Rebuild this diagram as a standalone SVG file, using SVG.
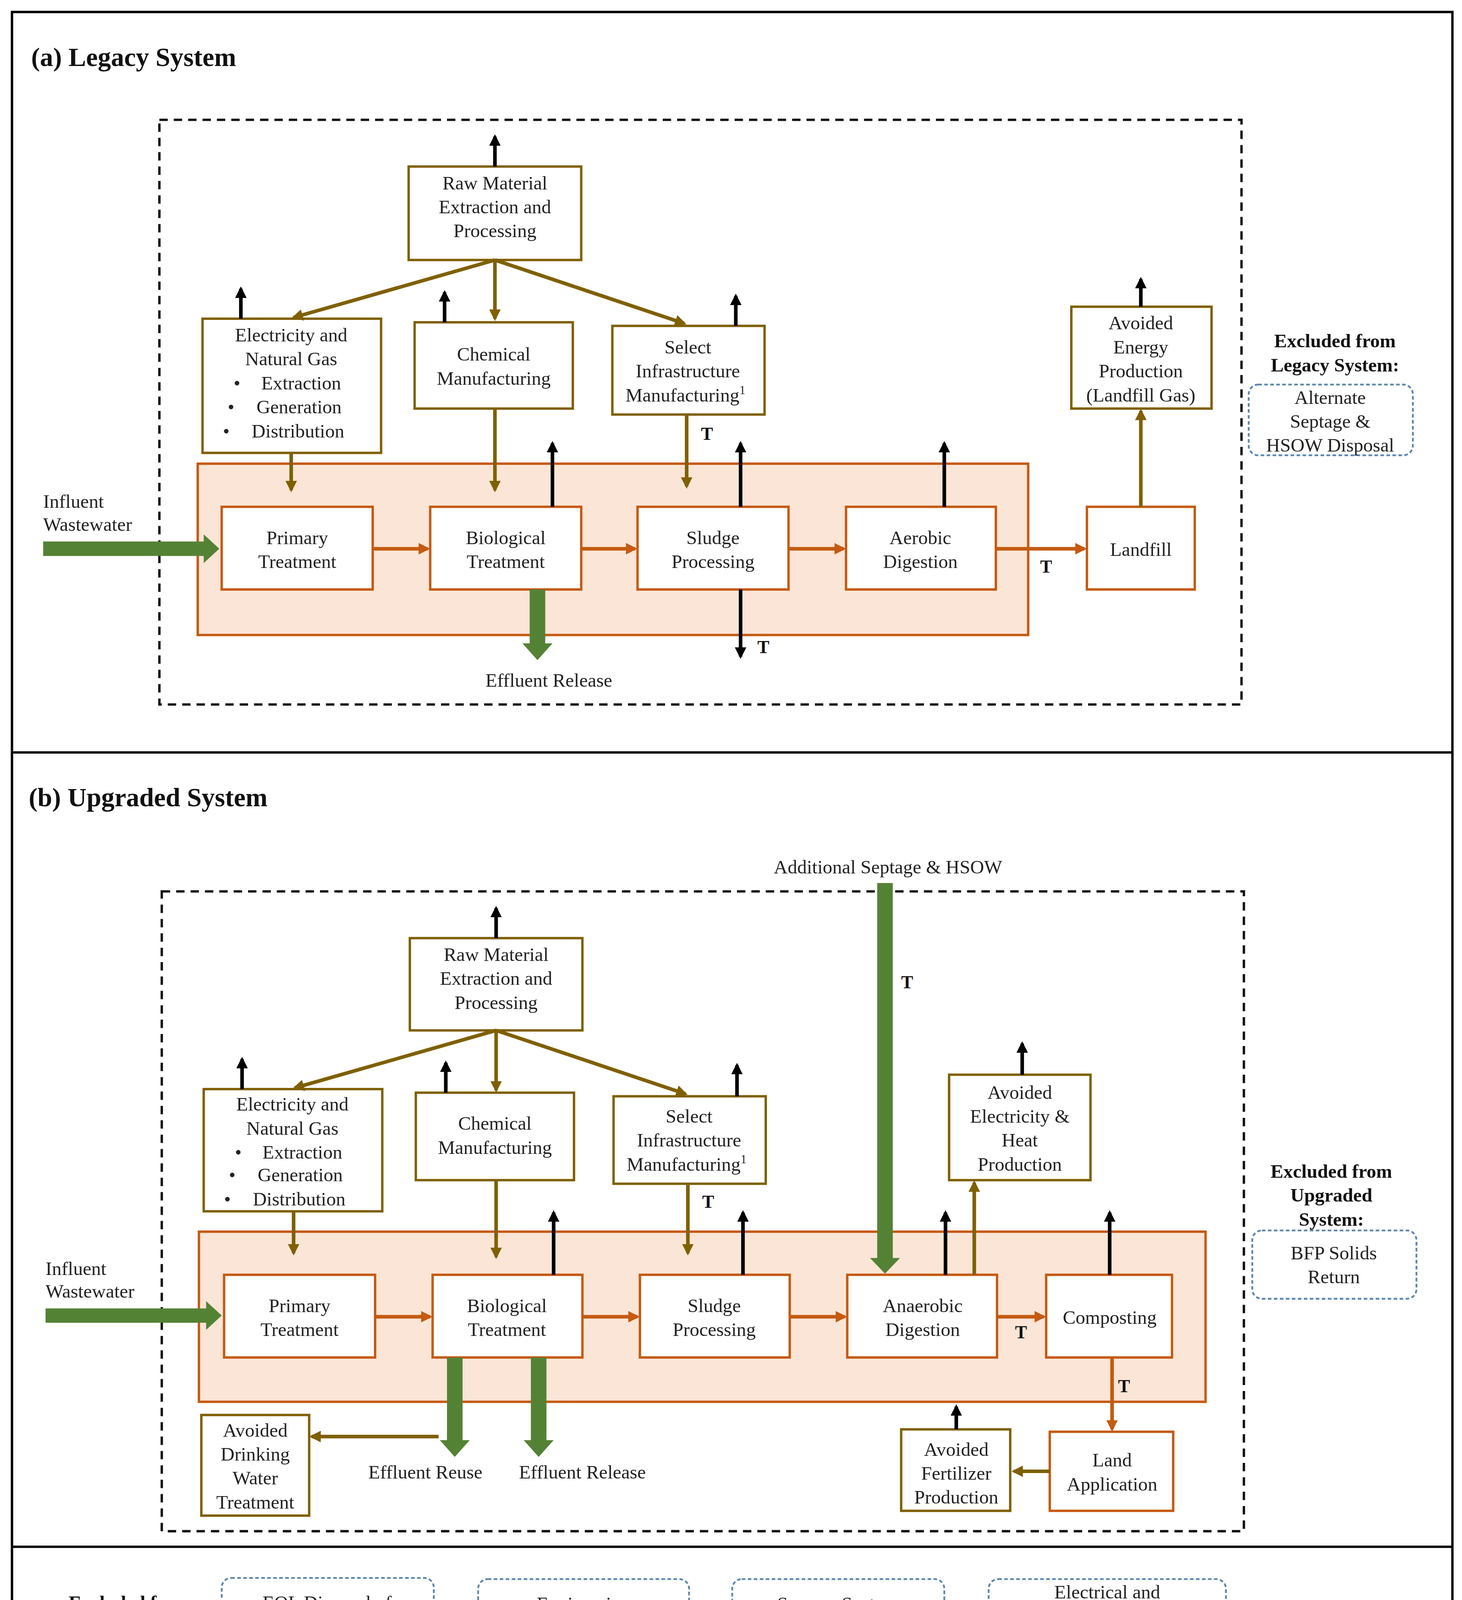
<svg xmlns="http://www.w3.org/2000/svg" width="3742" height="4801" viewBox="0 0 3742 4801">
<style>
.t{font-family:"Liberation Serif",serif;font-size:16px;fill:#222;text-anchor:middle}
.l{font-family:"Liberation Serif",serif;font-size:16px;fill:#222}
.b{font-family:"Liberation Serif",serif;font-weight:bold;fill:#111}
.bg{fill:#fff;stroke:#7f6000;stroke-width:2}
.fg{fill:#fff;stroke:#c55a11;stroke-width:2}
.ex{fill:#fff;stroke:#5b86b0;stroke-width:1.5;stroke-dasharray:3 2}
.wr{fill:#fbe5d6;stroke:#c55a11;stroke-width:2}
.bd{fill:none;stroke:#111;stroke-width:2;stroke-dasharray:7 5}
.em{stroke:#000;stroke-width:3;fill:none;marker-end:url(#mk)}
.ol{stroke:#7f6000;stroke-width:3;fill:none;marker-end:url(#mo)}
.or{stroke:#c55a11;stroke-width:3;fill:none;marker-end:url(#mr)}
.gr{fill:#548235}
</style>
<defs>
<marker id="mk" viewBox="0 0 10 10" refX="8" refY="5" markerWidth="3.2" markerHeight="3.2" orient="auto"><path d="M0,0L10,5L0,10z" fill="#000"/></marker>
<marker id="mo" viewBox="0 0 10 10" refX="8" refY="5" markerWidth="3.2" markerHeight="3.2" orient="auto"><path d="M0,0L10,5L0,10z" fill="#7f6000"/></marker>
<marker id="mr" viewBox="0 0 10 10" refX="8" refY="5" markerWidth="3.2" markerHeight="3.2" orient="auto"><path d="M0,0L10,5L0,10z" fill="#c55a11"/></marker>
</defs>
<rect width="3742" height="4801" fill="#fff"/>
<g transform="scale(3.0672)">
<g id="frame" fill="none" stroke="#000" stroke-width="2">
<rect x="10" y="10" width="1202" height="1550"/>
<line x1="10" y1="628" x2="1212" y2="628"/>
<line x1="10" y1="1291" x2="1212" y2="1291"/>
</g>
<!-- (a) -->
<text class="b" x="26" y="55" font-size="22">(a) Legacy System</text>
<rect class="bd" x="133" y="100" width="903" height="488"/>
<g id="a_wrrf"><rect class="wr" x="165" y="387" width="693" height="143"/></g>
<g id="a_raw"><rect class="bg" x="341" y="139" width="144" height="78"/><text class="t" x="413" y="158">Raw Material<tspan x="413" dy="20">Extraction and</tspan><tspan x="413" dy="20">Processing</tspan></text></g>
<g id="a_elec"><rect class="bg" x="169" y="266" width="149" height="112"/><text class="t" x="243" y="285">Electricity and<tspan x="243" dy="20">Natural Gas</tspan></text><text class="l" x="195" y="325">•<tspan x="218">Extraction</tspan></text><text class="l" x="190" y="345">•<tspan x="214">Generation</tspan></text><text class="l" x="186" y="365">•<tspan x="210">Distribution</tspan></text></g>
<g id="a_chem"><rect class="bg" x="346" y="269" width="132" height="72"/><text class="t" x="412" y="301">Chemical<tspan x="412" dy="20">Manufacturing</tspan></text></g>
<g id="a_sel"><rect class="bg" x="511" y="272" width="127" height="74"/><text class="t" x="574" y="295">Select<tspan x="574" dy="20">Infrastructure</tspan><tspan x="572" dy="20">Manufacturing<tspan font-size="10" dy="-6">1</tspan></tspan></text></g>
<g id="a_prim"><rect class="fg" x="185" y="423" width="126" height="69"/><text class="t" x="248" y="454">Primary<tspan x="248" dy="20">Treatment</tspan></text></g>
<g id="a_bio"><rect class="fg" x="359" y="423" width="126" height="69"/><text class="t" x="422" y="454">Biological<tspan x="422" dy="20">Treatment</tspan></text></g>
<g id="a_sludge"><rect class="fg" x="532" y="423" width="126" height="69"/><text class="t" x="595" y="454">Sludge<tspan x="595" dy="20">Processing</tspan></text></g>
<g id="a_aer"><rect class="fg" x="706" y="423" width="125" height="69"/><text class="t" x="768" y="454">Aerobic<tspan x="768" dy="20">Digestion</tspan></text></g>
<g id="a_land"><rect class="fg" x="907" y="423" width="90" height="69"/><text class="t" x="952" y="464">Landfill</text></g>
<g id="a_avoid"><rect class="bg" x="894" y="256" width="117" height="85"/><text class="t" x="952" y="275">Avoided<tspan x="952" dy="20">Energy</tspan><tspan x="952" dy="20">Production</tspan><tspan x="952" dy="20">(Landfill Gas)</tspan></text></g>
<g id="a_excl"><text class="b" x="1114" y="290" font-size="16" text-anchor="middle">Excluded from<tspan x="1114" dy="20">Legacy System:</tspan></text><rect class="ex" x="1042" y="321" width="137" height="59" rx="8"/><text class="t" x="1110" y="337">Alternate<tspan x="1110" dy="20">Septage &amp;</tspan><tspan x="1110" dy="20">HSOW Disposal</tspan></text></g>
<g id="a_conn">
<path class="em" d="M413,139V114"/><path class="em" d="M201,266V241"/><path class="em" d="M371,269V244"/><path class="em" d="M614,272V247"/>
<path class="em" d="M952,256V233"/><path class="em" d="M461,423V370"/><path class="em" d="M618,423V370"/><path class="em" d="M788,423V370"/><path class="em" d="M618,492V548"/>
<path class="ol" d="M413,217L245,265"/><path class="ol" d="M413,217V266"/><path class="ol" d="M413,217L571,270"/>
<path class="ol" d="M243,378V409"/><path class="ol" d="M413,341V409"/><path class="ol" d="M573,346V406"/><path class="ol" d="M952,423V343"/>
<path class="or" d="M311,458H357"/><path class="or" d="M485,458H530"/><path class="or" d="M658,458H704"/><path class="or" d="M831,458H905"/>
<polygon class="gr" points="36,452 170,452 170,446 183,458 170,470 170,464 36,464"/>
<polygon class="gr" points="442,492 455,492 455,537 461,537 448.5,551 436,537 442,537"/>
<text class="b" x="873" y="478" font-size="15" text-anchor="middle">T</text><text class="b" x="590" y="367" font-size="15" text-anchor="middle">T</text><text class="b" x="637" y="545" font-size="15" text-anchor="middle">T</text>
</g>
<text class="l" x="36" y="424">Influent<tspan x="36" dy="19">Wastewater</tspan></text>
<text class="t" x="458" y="573">Effluent Release</text>
<!-- (b) -->
<text class="b" x="24" y="673" font-size="22">(b) Upgraded System</text>
<rect class="bd" x="135" y="744" width="903" height="534"/>
<g id="b_wrrf"><rect class="wr" x="166" y="1028" width="840" height="142"/></g>
<g id="b_raw"><rect class="bg" x="342" y="783" width="144" height="77"/><text class="t" x="414" y="802">Raw Material<tspan x="414" dy="20">Extraction and</tspan><tspan x="414" dy="20">Processing</tspan></text></g>
<g id="b_elec"><rect class="bg" x="170" y="909" width="149" height="102"/><text class="t" x="244" y="927">Electricity and<tspan x="244" dy="20">Natural Gas</tspan></text><text class="l" x="196" y="967">•<tspan x="219">Extraction</tspan></text><text class="l" x="191" y="986">•<tspan x="215">Generation</tspan></text><text class="l" x="187" y="1006">•<tspan x="211">Distribution</tspan></text></g>
<g id="b_chem"><rect class="bg" x="347" y="912" width="132" height="73"/><text class="t" x="413" y="943">Chemical<tspan x="413" dy="20">Manufacturing</tspan></text></g>
<g id="b_sel"><rect class="bg" x="512" y="915" width="127" height="73"/><text class="t" x="575" y="937">Select<tspan x="575" dy="20">Infrastructure</tspan><tspan x="573" dy="20">Manufacturing<tspan font-size="10" dy="-6">1</tspan></tspan></text></g>
<g id="b_avoid"><rect class="bg" x="792" y="897" width="118" height="88"/><text class="t" x="851" y="917">Avoided<tspan x="851" dy="20">Electricity &amp;</tspan><tspan x="851" dy="20">Heat</tspan><tspan x="851" dy="20">Production</tspan></text></g>
<g id="b_prim"><rect class="fg" x="187" y="1064" width="126" height="69"/><text class="t" x="250" y="1095">Primary<tspan x="250" dy="20">Treatment</tspan></text></g>
<g id="b_bio"><rect class="fg" x="361" y="1064" width="125" height="69"/><text class="t" x="423" y="1095">Biological<tspan x="423" dy="20">Treatment</tspan></text></g>
<g id="b_sludge"><rect class="fg" x="534" y="1064" width="125" height="69"/><text class="t" x="596" y="1095">Sludge<tspan x="596" dy="20">Processing</tspan></text></g>
<g id="b_ana"><rect class="fg" x="707" y="1064" width="125" height="69"/><text class="t" x="770" y="1095">Anaerobic<tspan x="770" dy="20">Digestion</tspan></text></g>
<g id="b_comp"><rect class="fg" x="873" y="1064" width="105" height="69"/><text class="t" x="926" y="1105">Composting</text></g>
<g id="b_landapp"><rect class="fg" x="876" y="1195" width="103" height="66"/><text class="t" x="928" y="1224">Land<tspan x="928" dy="20">Application</tspan></text></g>
<g id="b_fert"><rect class="bg" x="752" y="1193" width="91" height="68"/><text class="t" x="798" y="1215">Avoided<tspan x="798" dy="20">Fertilizer</tspan><tspan x="798" dy="20">Production</tspan></text></g>
<g id="b_dw"><rect class="bg" x="168" y="1181" width="90" height="84"/><text class="t" x="213" y="1199">Avoided<tspan x="213" dy="20">Drinking</tspan><tspan x="213" dy="20">Water</tspan><tspan x="213" dy="20">Treatment</tspan></text></g>
<g id="b_excl"><text class="b" x="1111" y="983" font-size="16" text-anchor="middle">Excluded from<tspan x="1111" dy="20">Upgraded</tspan><tspan x="1111" dy="20">System:</tspan></text><rect class="ex" x="1045" y="1027" width="137" height="57" rx="8"/><text class="t" x="1113" y="1051">BFP Solids<tspan x="1113" dy="20">Return</tspan></text></g>
<g id="b_conn">
<path class="em" d="M414,783V758"/><path class="em" d="M202,909V884"/><path class="em" d="M372,912V887"/><path class="em" d="M615,915V889"/><path class="em" d="M853,897V871"/>
<path class="em" d="M462,1064V1012"/><path class="em" d="M620,1064V1012"/><path class="em" d="M789,1064V1012"/><path class="em" d="M926,1064V1012"/><path class="em" d="M798,1193V1174"/>
<path class="ol" d="M414,860L246,908"/><path class="ol" d="M414,860V910"/><path class="ol" d="M414,860L572,913"/>
<path class="ol" d="M245,1011V1046"/><path class="ol" d="M414,985V1049"/><path class="ol" d="M574,988V1046"/><path class="ol" d="M813,1064V987"/>
<path class="ol" d="M876,1228H846"/><path class="ol" d="M366,1199H260"/>
<path class="or" d="M313,1099H359"/><path class="or" d="M486,1099H532"/><path class="or" d="M659,1099H705"/><path class="or" d="M832,1099H871"/><path class="or" d="M928,1133V1193"/>
<polygon class="gr" points="38,1092 172,1092 172,1086 185,1098 172,1110 172,1104 38,1104"/>
<polygon class="gr" points="373,1133 386,1133 386,1202 392,1202 379.5,1216 367,1202 373,1202"/>
<polygon class="gr" points="443,1133 456,1133 456,1202 462,1202 449.5,1216 437,1202 443,1202"/>
<polygon class="gr" points="732,737 745,737 745,1050 751,1050 738.5,1063 726,1050 732,1050"/>
<text class="b" x="757" y="825" font-size="15" text-anchor="middle">T</text><text class="b" x="591" y="1008" font-size="15" text-anchor="middle">T</text><text class="b" x="852" y="1117" font-size="15" text-anchor="middle">T</text><text class="b" x="938" y="1162" font-size="15" text-anchor="middle">T</text>
</g>
<text class="t" x="741" y="729">Additional Septage &amp; HSOW</text>
<text class="l" x="38" y="1064">Influent<tspan x="38" dy="19">Wastewater</tspan></text>
<text class="t" x="355" y="1234">Effluent Reuse</text>
<text class="t" x="486" y="1234">Effluent Release</text>
<!-- bottom -->
<g id="both"><text class="b" x="108" y="1343" font-size="16" text-anchor="middle">Excluded from<tspan x="108" dy="22">Both Systems:</tspan></text>
<rect class="ex" x="185" y="1317" width="177" height="63" rx="8"/><text class="t" x="273" y="1343">EOL Disposal of<tspan x="273" dy="21">Plant Infrastructure</tspan></text>
<rect class="ex" x="399" y="1318" width="176" height="62" rx="8"/><text class="t" x="487" y="1344">Engineering<tspan x="487" dy="21">Services</tspan></text>
<rect class="ex" x="611" y="1318" width="177" height="62" rx="8"/><text class="t" x="699" y="1344">Sewage System<tspan x="699" dy="21">Maintenance</tspan></text>
<rect class="ex" x="825" y="1318" width="198" height="62" rx="8"/><text class="t" x="924" y="1334">Electrical and<tspan x="924" dy="21">Mechanical</tspan><tspan x="924" dy="21">Equipment Production</tspan></text></g>
<g id="key">
<rect x="42" y="1394" width="1137" height="136" fill="#fff" stroke="#888" stroke-width="1.5"/>
<text class="b" x="48" y="1413" font-size="16">KEY</text>
<rect class="bd" x="62" y="1434" width="150" height="73"/><text class="t" x="137" y="1466">LCA System<tspan x="137" dy="21">Boundary</tspan></text>
<rect class="ex" x="229" y="1432" width="168" height="75" rx="10"/><text class="t" x="313" y="1465">Excluded Unit<tspan x="313" dy="21">Process</tspan></text>
<rect class="wr" x="418" y="1434" width="150" height="73"/><text class="t" x="493" y="1466">Water Resource<tspan x="493" dy="21">Recovery Facility</tspan></text>
<rect class="fg" x="598" y="1434" width="150" height="73"/><text class="t" x="673" y="1466">Foreground Unit<tspan x="673" dy="21">Processes</tspan></text>
<rect class="bg" x="763" y="1434" width="141" height="73"/><text class="t" x="833" y="1466">Background<tspan x="833" dy="21">Unit Processes</tspan></text>
<path class="em" d="M936,1432H986"/><text class="l" x="999" y="1438">Emissions to Nature</text>
<text class="l" x="936" y="1469"><tspan font-weight="bold">T</tspan> - Transport</text>
<polygon class="gr" points="934,1492 1115,1492 1115,1482 1141,1505 1115,1528 1115,1518 934,1518"/>
<text class="t" x="1032" y="1511" style="fill:#fff">Waste In/Out</text>
</g>
</g>
</svg>
